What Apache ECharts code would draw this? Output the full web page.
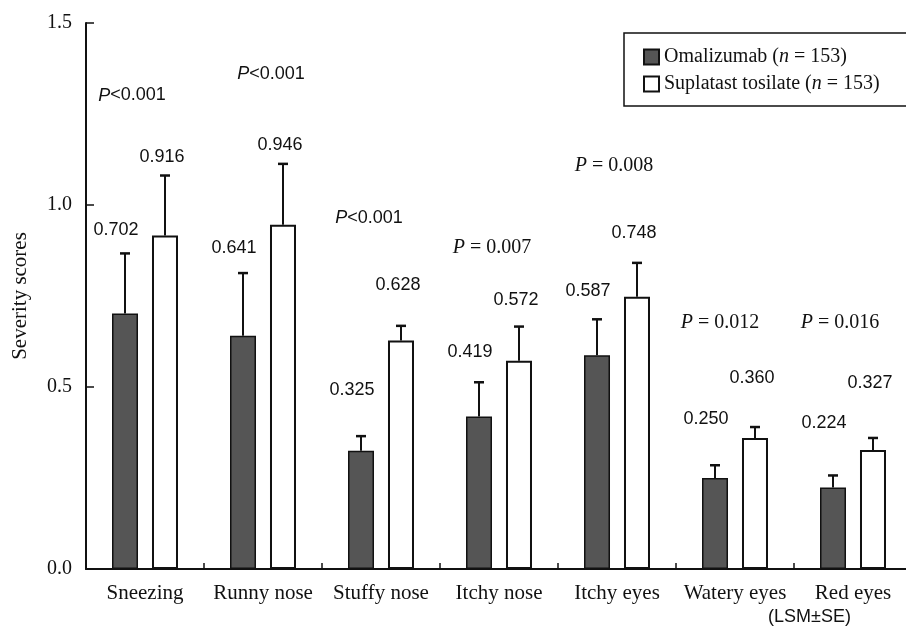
<!DOCTYPE html>
<html><head><meta charset="utf-8">
<script src="https://cdn.jsdelivr.net/npm/echarts@6/dist/echarts.min.js"></script>
<style>html,body{margin:0;padding:0;background:#fff}#c{width:906px;height:629px}</style>
</head><body><div id="c"></div>
<script>
// ---- data ----
const categories = ['Sneezing', 'Runny nose', 'Stuffy nose', 'Itchy nose', 'Itchy eyes', 'Watery eyes', 'Red eyes'];
const omalizumab = [0.702, 0.641, 0.325, 0.419, 0.587, 0.250, 0.224];
const omalizumabSE = [0.165, 0.172, 0.040, 0.094, 0.099, 0.035, 0.033];
const suplatast = [0.916, 0.946, 0.628, 0.572, 0.748, 0.360, 0.327];
const suplatastSE = [0.165, 0.167, 0.040, 0.094, 0.093, 0.030, 0.033];
const pValues = ['P<0.001', 'P<0.001', 'P<0.001', 'P = 0.007', 'P = 0.008', 'P = 0.012', 'P = 0.016'];
const yTicks = [0.0, 0.5, 1.0, 1.5];
const seriesNames = ['Omalizumab', 'Suplatast tosilate'];

// ---- styling (label placement in pixels) ----
const BAR_W = 26, GAP_PX = 14;
const HALF = (BAR_W + GAP_PX) / 2;
const liftOma = [23, 25, 46, 30, 28, 46, 52];
const liftSup = [18, 19, 41, 27, 30, 49, 55];
const liftP = [80, 90, 108, 79, 97, 104, 115];
const dxP = [-13, 8, -12, -7, -3, -15, -13];
const SERIF = '"Liberation Serif", "DejaVu Serif", serif';
const SANS = '"Liberation Sans", Arial, sans-serif';
const INK = '#111';

function errRender(side, lifts, dx) {
  return function (params, api) {
    const i = api.value(0), v = api.value(1), se = api.value(2);
    const b = api.coord([i, v]);
    const t = api.coord([i, v + se]);
    const x = b[0] + side * HALF;
    return {
      type: 'group',
      children: [
        { type: 'line', shape: { x1: x, y1: b[1], x2: x, y2: t[1] }, style: { stroke: INK, lineWidth: 2 } },
        { type: 'line', shape: { x1: x - 5, y1: t[1], x2: x + 5, y2: t[1] }, style: { stroke: INK, lineWidth: 2.5 } },
        { type: 'text', x: x + dx, y: t[1] - lifts[i],
          style: { text: v.toFixed(3), align: 'center', verticalAlign: 'middle', font: '18px ' + SANS, fill: INK } }
      ]
    };
  };
}

function pRender(params, api) {
  const i = api.value(0), top = api.value(1);
  const c = api.coord([i, top]);
  const txt = pValues[i];
  const isLess = txt.indexOf('<') >= 0;
  const rest = txt.slice(1);
  return {
    type: 'text', x: c[0] + dxP[i], y: c[1] - liftP[i],
    style: {
      text: isLess ? '{pi|P}{ps|' + rest + '}' : '{qi|P}{qs|' + rest + '}',
      align: 'center', verticalAlign: 'middle', fill: INK,
      rich: {
        pi: { fontFamily: SANS, fontStyle: 'italic', fontSize: 18, fill: INK },
        ps: { fontFamily: SANS, fontSize: 18, fill: INK },
        qi: { fontFamily: SERIF, fontStyle: 'italic', fontSize: 20, fill: INK },
        qs: { fontFamily: SERIF, fontSize: 20, fill: INK }
      }
    }
  };
}

const omaErr = omalizumab.map((v, i) => [i, v, omalizumabSE[i]]);
const supErr = suplatast.map((v, i) => [i, v, suplatastSE[i]]);
const pTop = categories.map((c, i) => [i, Math.max(omalizumab[i] + omalizumabSE[i], suplatast[i] + suplatastSE[i])]);

const chart = echarts.init(document.getElementById('c'), null, { renderer: 'canvas' });
chart.setOption({
  animation: false,
  backgroundColor: '#fff',
  grid: { left: 86, top: 23, width: 826, height: 546, containLabel: false, outerBoundsMode: 'none' },
  legend: {
    data: seriesNames,
    orient: 'vertical', left: 624, top: 33,
    borderColor: INK, borderWidth: 1.5,
    padding: [14, 40, 12, 19],
    itemGap: 7, itemWidth: 15, itemHeight: 15,
    icon: 'rect',
    selectedMode: false,
    formatter: name => name === 'Omalizumab' ? '{a|Omalizumab (}{i|n}{a| = 153)}' : '{a|Suplatast tosilate (}{i|n}{a| = 153)}',
    textStyle: {
      color: INK,
      rich: {
        a: { fontFamily: SERIF, fontSize: 20, color: INK },
        i: { fontFamily: SERIF, fontSize: 20, fontStyle: 'italic', color: INK }
      }
    }
  },
  xAxis: {
    type: 'category', data: categories,
    axisLine: { lineStyle: { color: INK, width: 2 } },
    axisTick: { show: true, inside: true, length: 6, interval: 0, lineStyle: { color: INK, width: 1.5 } },
    axisLabel: { fontFamily: SERIF, fontSize: 21, color: INK, margin: 14, interval: 0 }
  },
  yAxis: {
    type: 'value', min: yTicks[0], max: yTicks[yTicks.length - 1], interval: yTicks[1] - yTicks[0],
    name: 'Severity scores', nameLocation: 'middle', nameGap: 55, nameRotate: 90,
    nameTextStyle: { fontFamily: SERIF, fontSize: 21, color: INK },
    axisLine: { show: true, lineStyle: { color: INK, width: 2 } },
    axisTick: { show: true, inside: true, length: 8, lineStyle: { color: INK, width: 1.5 } },
    splitLine: { show: false },
    axisLabel: { fontFamily: SERIF, fontSize: 20, color: INK, margin: 14, formatter: v => v.toFixed(1) }
  },
  series: [
    { name: seriesNames[0], type: 'bar', data: omalizumab, barWidth: BAR_W, barGap: (GAP_PX / BAR_W * 100).toFixed(1) + '%',
      itemStyle: { color: '#555555', borderColor: INK, borderWidth: 1.5 } },
    { name: seriesNames[1], type: 'bar', data: suplatast, barWidth: BAR_W,
      itemStyle: { color: '#fff', borderColor: INK, borderWidth: 2 } },
    { type: 'custom', data: omaErr, renderItem: errRender(-1, liftOma, -9), encode: { x: 0, y: 1 }, z: 5 },
    { type: 'custom', data: supErr, renderItem: errRender(1, liftSup, -3), encode: { x: 0, y: 1 }, z: 5 },
    { type: 'custom', data: pTop, renderItem: pRender, encode: { x: 0, y: 1 }, z: 5 }
  ],
  graphic: [
    { type: 'text', left: 768, top: 608, style: { text: '(LSM\u00B1SE)', font: '18px ' + SANS, fill: INK } }
  ]
});
</script></body></html>
